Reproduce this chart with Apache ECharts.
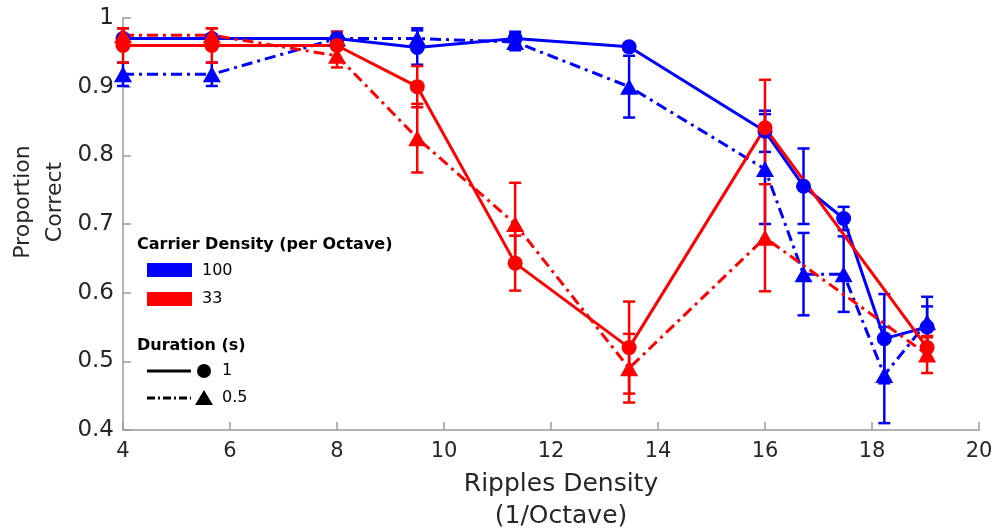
<!DOCTYPE html>
<html><head><meta charset="utf-8">
<script src="https://cdn.jsdelivr.net/npm/echarts@6/dist/echarts.min.js"></script>
<style>html,body{margin:0;padding:0;background:#fff}#c{width:999px;height:531px}</style>
</head><body><div id="c"></div>
<script>
// x positions (Ripples Density, 1/Octave)
const xs100 = [4, 5.66, 8, 9.5, 11.33, 13.46, 16, 16.72, 17.47, 18.23, 19.03];
const xs33  = [4, 5.66, 8, 9.5, 11.33, 13.46, 16, 19.03];
// Carrier 100, duration 1 s (circles, solid)
const blue1    = [0.97, 0.97, 0.97, 0.957, 0.97, 0.958, 0.835, 0.755, 0.708, 0.533, 0.55];
const blue1Err = [0.005, 0.005, 0.005, 0.025, 0.01, 0.005, 0.03, 0.055, 0.017, 0.065, 0.03];
// Carrier 100, duration 0.5 s (triangles, dash-dot)
const blue05    = [0.918, 0.918, 0.97, 0.97, 0.965, 0.90, 0.78, 0.627, 0.627, 0.48, 0.557];
const blue05Err = [0.017, 0.017, 0.01, 0.015, 0.012, 0.045, 0.08, 0.06, 0.055, 0.07, 0.037];
// Carrier 33, duration 1 s
const red1    = [0.96, 0.96, 0.96, 0.90, 0.643, 0.52, 0.84, 0.52];
const red1Err = [0.025, 0.025, 0.02, 0.03, 0.04, 0.067, 0.07, 0.015];
// Carrier 33, duration 0.5 s
const red05    = [0.975, 0.975, 0.945, 0.825, 0.70, 0.49, 0.68, 0.51];
const red05Err = [0.01, 0.01, 0.017, 0.05, 0.06, 0.05, 0.078, 0.027];

const xTicks = [4, 6, 8, 10, 12, 14, 16, 18, 20];
const yTicks = [0.4, 0.5, 0.6, 0.7, 0.8, 0.9, 1];

const BLUE = '#0000ff', RED = '#ff0000';
const DASHDOT = [11, 5, 3, 5];
const FONT = 'DejaVu Sans';

function pts(xs, ys) { return xs.map((x, i) => [x, ys[i]]); }
function errPts(xs, ys, es) { return xs.map((x, i) => [x, ys[i], es[i]]); }

function errSeries(xs, ys, es, color) {
  return {
    type: 'custom',
    data: errPts(xs, ys, es),
    clip: false,
    renderItem: function (params, api) {
      const x = api.value(0), y = api.value(1), e = api.value(2);
      const top = api.coord([x, y + e]);
      const bot = api.coord([x, y - e]);
      const hw = 6;
      const st = { stroke: color, lineWidth: 2.5 };
      return {
        type: 'group',
        children: [
          { type: 'line', shape: { x1: top[0], y1: top[1], x2: bot[0], y2: bot[1] }, style: st },
          { type: 'line', shape: { x1: top[0] - hw, y1: top[1], x2: top[0] + hw, y2: top[1] }, style: st },
          { type: 'line', shape: { x1: bot[0] - hw, y1: bot[1], x2: bot[0] + hw, y2: bot[1] }, style: st }
        ]
      };
    }
  };
}
function lineSeries(xs, ys, color, symbol, dash) {
  return {
    type: 'line',
    data: pts(xs, ys),
    symbol: symbol,
    symbolSize: symbol === 'circle' ? 15 : [18, 16],
    showSymbol: true,
    itemStyle: { color: color, borderWidth: 0 },
    lineStyle: { color: color, width: 3, type: dash },
    emphasis: { disabled: true }
  };
}

const chart = echarts.init(document.getElementById('c'), null, { renderer: 'canvas' });
const axisTextColor = '#262626';
chart.setOption({
  animation: false,
  backgroundColor: '#fff',
  grid: { left: 123, right: 20, top: 18, bottom: 101, containLabel: false, outerBoundsMode: 'none' },
  xAxis: {
    type: 'value', min: 4, max: 20, interval: 2,
    name: 'Ripples Density\n(1/Octave)', nameLocation: 'middle', nameGap: 38,
    nameTextStyle: { fontFamily: FONT, fontSize: 25, color: axisTextColor, lineHeight: 32, padding: [0, 0, 0, 20] },
    axisLine: { show: true, lineStyle: { color: '#9a9a9a', width: 1.5 } },
    axisTick: { show: true, inside: true, length: 8, lineStyle: { color: '#9a9a9a', width: 1.5 } },
    axisLabel: { fontFamily: FONT, fontSize: 21, color: axisTextColor, margin: 11 },
    splitLine: { show: false }
  },
  yAxis: {
    type: 'value', min: 0.4, max: 1, interval: 0.1,
    axisLine: { show: true, lineStyle: { color: '#9a9a9a', width: 1.5 } },
    axisTick: { show: true, inside: true, length: 8, lineStyle: { color: '#9a9a9a', width: 1.5 } },
    axisLabel: {
      fontFamily: FONT, fontSize: 23, color: axisTextColor, margin: 9,
      formatter: v => (Math.abs(v - 1) < 1e-9 ? '1' : v.toFixed(1))
    },
    splitLine: { show: false }
  },
  series: [
    errSeries(xs100, blue1, blue1Err, BLUE),
    errSeries(xs100, blue05, blue05Err, BLUE),
    lineSeries(xs100, blue1, BLUE, 'circle', 'solid'),
    lineSeries(xs100, blue05, BLUE, 'triangle', DASHDOT),
    errSeries(xs33, red1, red1Err, RED),
    errSeries(xs33, red05, red05Err, RED),
    lineSeries(xs33, red1, RED, 'circle', 'solid'),
    lineSeries(xs33, red05, RED, 'triangle', DASHDOT)
  ],
  graphic: [
    { type: 'text', rotation: Math.PI / 2, x: 39, y: 202,
      style: { text: 'Proportion\nCorrect', fontFamily: FONT, fontSize: 22, fill: axisTextColor,
               align: 'center', verticalAlign: 'middle', lineHeight: 32 } },
    { type: 'text', x: 137, y: 245, style: { text: 'Carrier Density (per Octave)', fontFamily: FONT, fontWeight: 'bold', fontSize: 16, fill: '#000', verticalAlign: 'middle' } },
    { type: 'rect', shape: { x: 147, y: 263, width: 45, height: 14 }, style: { fill: BLUE } },
    { type: 'text', x: 202, y: 271, style: { text: '100', fontFamily: FONT, fontSize: 16, fill: '#000', verticalAlign: 'middle' } },
    { type: 'rect', shape: { x: 147, y: 292, width: 45, height: 14 }, style: { fill: RED } },
    { type: 'text', x: 202, y: 299, style: { text: '33', fontFamily: FONT, fontSize: 16, fill: '#000', verticalAlign: 'middle' } },
    { type: 'text', x: 137, y: 346, style: { text: 'Duration (s)', fontFamily: FONT, fontWeight: 'bold', fontSize: 16, fill: '#000', verticalAlign: 'middle' } },
    { type: 'line', shape: { x1: 147, y1: 371, x2: 191, y2: 371 }, style: { stroke: '#000', lineWidth: 3 } },
    { type: 'circle', shape: { cx: 204, cy: 371, r: 7 }, style: { fill: '#000' } },
    { type: 'text', x: 222, y: 371, style: { text: '1', fontFamily: FONT, fontSize: 16, fill: '#000', verticalAlign: 'middle' } },
    { type: 'line', shape: { x1: 147, y1: 398, x2: 191, y2: 398 }, style: { stroke: '#000', lineWidth: 3, lineDash: [8, 3, 2, 3] } },
    { type: 'polygon', shape: { points: [[204, 390], [213, 405], [195, 405]] }, style: { fill: '#000' } },
    { type: 'text', x: 222, y: 398, style: { text: '0.5', fontFamily: FONT, fontSize: 16, fill: '#000', verticalAlign: 'middle' } }
  ]
});
</script>
</body></html>
